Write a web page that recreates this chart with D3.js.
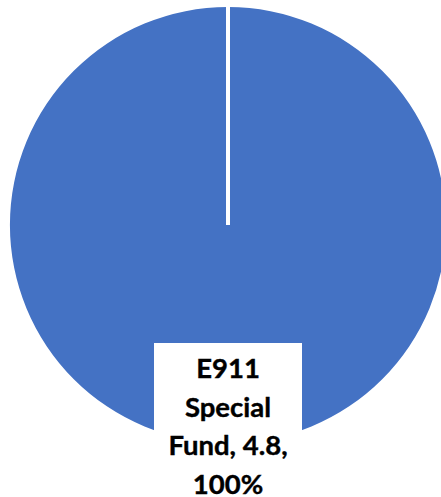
<!DOCTYPE html>
<html>
<head>
<meta charset="utf-8">
<script src="https://cdn.jsdelivr.net/npm/d3@7"></script>
<style>
  html, body { margin: 0; padding: 0; background: #fff; overflow: hidden; }
  svg { display: block; }
</style>
</head>
<body>
<svg id="chart"></svg>
<script>
const WIDTH = 441;
const HEIGHT = 497;

// data
const categories = ['E911 Special Fund'];
const values = [4.8];
const colors = ['#4472C4'];

const CX = 228;
const CY = 225;
const RADIUS = 218;

const svg = d3.select('#chart').attr('width', WIDTH).attr('height', HEIGHT);

const pie = d3.pie().sort(null).value(d => d.value);
const arc = d3.arc().innerRadius(0).outerRadius(RADIUS);

const data = categories.map((name, i) => ({ name, value: values[i], color: colors[i] }));
const arcs = pie(data);
const total = d3.sum(values);

const g = svg.append('g').attr('transform', `translate(${CX}, ${CY})`);

g.selectAll('path.slice')
  .data(arcs)
  .join('path')
  .attr('class', 'slice')
  .attr('d', arc)
  .attr('fill', d => d.data.color);

// slice borders (start edge of each slice)
g.selectAll('line.edge')
  .data(arcs)
  .join('line')
  .attr('class', 'edge')
  .attr('x1', 0)
  .attr('y1', 0)
  .attr('x2', d => d3.pointRadial(d.startAngle, RADIUS + 2)[0])
  .attr('y2', d => d3.pointRadial(d.startAngle, RADIUS + 2)[1])
  .attr('stroke', '#fff')
  .attr('stroke-width', 4);

// data label
const fmtPct = d3.format('.0%');
const labels = arcs.map(d => [
  d.data.name.split(' ')[0],
  d.data.name.split(' ')[1],
  d.data.name.split(' ').slice(2).join(' ') + ', ' + d.data.value + ',',
  fmtPct(d.data.value / total)
]);

const labelG = svg.append('g').attr('transform', `translate(${CX}, 343)`);
labelG.append('rect')
  .attr('x', -74)
  .attr('y', 0)
  .attr('width', 148)
  .attr('height', 170)
  .attr('fill', '#fff');

labelG.append('text')
  .attr('text-anchor', 'middle')
  .attr('font-family', 'Lato, "Open Sans", sans-serif')
  .attr('font-weight', 'bold')
  .attr('font-size', 27.5)
  .attr('fill', '#000')
  .attr('stroke', '#000')
  .attr('stroke-width', 0.4)
  .selectAll('tspan')
  .data(labels[0])
  .join('tspan')
  .attr('x', 0)
  .attr('y', (d, i) => 35 + i * 38.5)
  .text(d => d);
</script>
</body>
</html>
